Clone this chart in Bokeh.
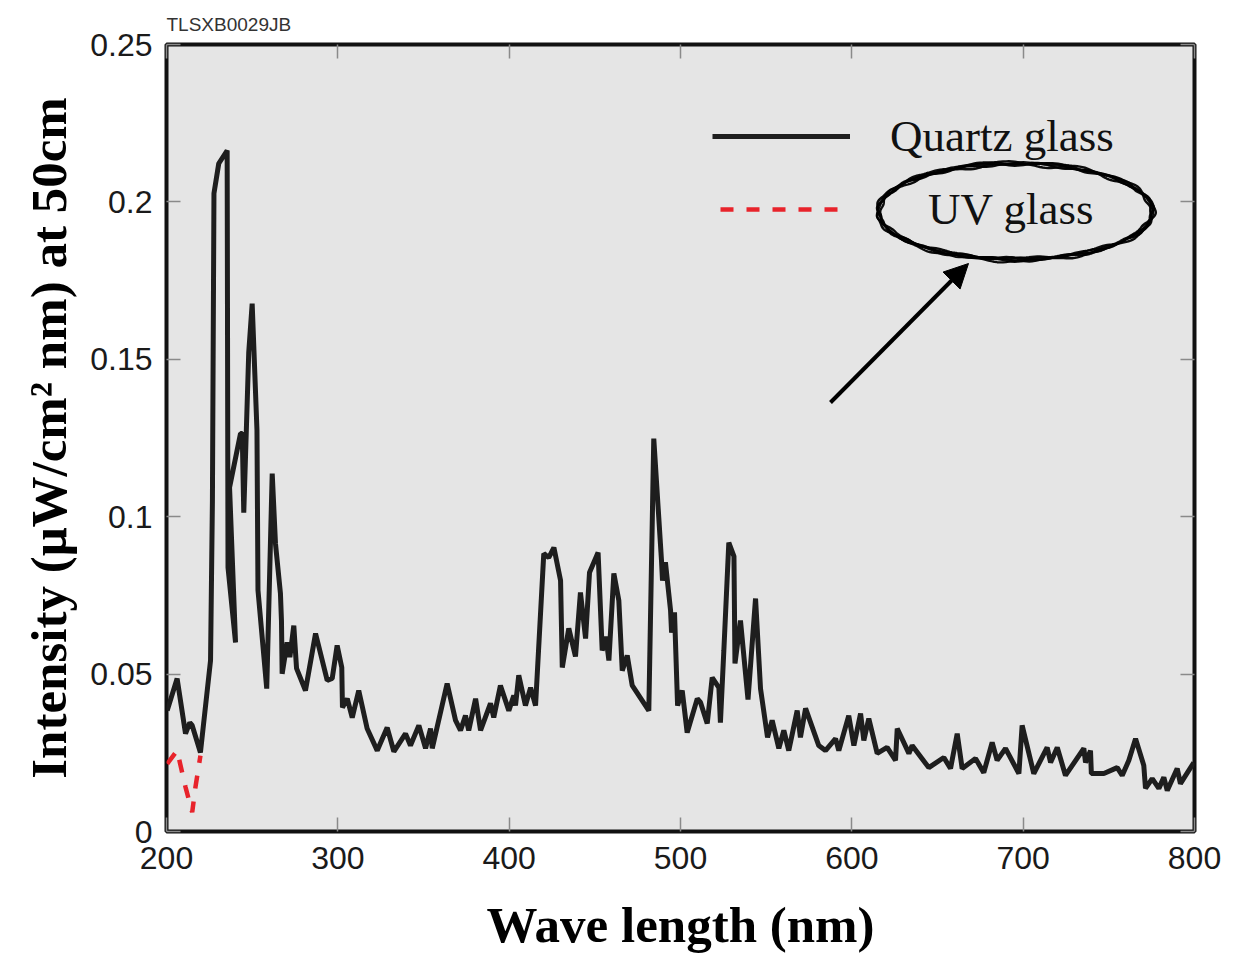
import numpy as np
from bokeh.plotting import figure
from bokeh.models import (Range1d, FixedTicker, LinearAxis, Legend, LegendItem,
                          PolyAnnotation, Arrow, NormalHead)
from bokeh.embed import file_html
from bokeh.resources import INLINE

# ---------------- data ----------------
WAVELENGTH_QUARTZ = [
    200.4, 206.2, 211.1, 213.6, 215.0, 219.8, 225.7, 226.8, 227.7, 230.5,
    235.4, 235.9, 240.3, 236.8, 243.2, 244.2, 245.1, 248.0, 250.0, 252.8,
    253.4, 258.5, 261.7, 263.6, 266.5, 267.1, 267.5, 270.4, 272.0, 274.3,
    275.9, 281.1, 287.0, 293.8, 296.7, 299.6, 302.3, 302.7, 305.5, 308.4,
    312.2, 317.1, 323.0, 328.8, 332.7, 339.5, 342.4, 347.3, 351.2, 354.1,
    355.1, 363.8, 368.7, 371.6, 374.5, 376.4, 380.4, 383.3, 389.1, 391.0,
    394.9, 399.8, 402.7, 403.7, 405.6, 409.5, 412.5, 415.4, 420.2, 423.1,
    426.1, 430.0, 431.0, 434.8, 438.7, 441.6, 444.6, 446.9, 451.9, 454.3,
    456.5, 458.2, 461.1, 464.0, 466.0, 468.9, 471.8, 481.5, 484.4, 488.9,
    489.5, 491.2, 494.2, 494.8, 496.5, 498.3, 501.0, 503.9, 509.8, 511.7,
    515.6, 518.5, 522.4, 523.3, 525.3, 528.2, 531.2, 531.8, 535.0, 539.4,
    543.8, 546.7, 550.8, 553.5, 557.4, 560.3, 563.2, 568.1, 570.0, 573.0,
    580.7, 584.6, 590.5, 592.4, 598.2, 601.2, 605.1, 607.0, 609.9, 614.8,
    620.6, 625.5, 626.5, 633.3, 635.2, 644.9, 653.7, 657.6, 661.5, 664.4,
    672.2, 677.0, 681.9, 684.8, 689.7, 697.5, 699.4, 706.2, 714.0, 716.0,
    719.9, 724.7, 735.4, 736.4, 739.3, 739.8, 747.1, 754.9, 757.8, 761.7,
    765.6, 770.4, 771.4, 775.3, 779.2, 782.1, 784.1, 789.9, 791.8, 799.6,
]
INTENSITY_QUARTZ = [
    0.0384, 0.0486, 0.0311, 0.0346, 0.0337, 0.0251, 0.0543, 0.1051, 0.2027, 0.2122,
    0.2163, 0.0839, 0.0600, 0.1093, 0.1264, 0.1264, 0.1013, 0.1522, 0.1677, 0.1274,
    0.0766, 0.0454, 0.1137, 0.0915, 0.0756, 0.0670, 0.0501, 0.0601, 0.0554, 0.0654,
    0.0518, 0.0448, 0.0629, 0.0480, 0.0486, 0.0591, 0.0521, 0.0394, 0.0422, 0.0362,
    0.0448, 0.0327, 0.0257, 0.0330, 0.0254, 0.0311, 0.0273, 0.0337, 0.0264, 0.0327,
    0.0264, 0.0470, 0.0353, 0.0321, 0.0368, 0.0321, 0.0422, 0.0321, 0.0407, 0.0362,
    0.0464, 0.0384, 0.0432, 0.0400, 0.0496, 0.0400, 0.0457, 0.0400, 0.0883, 0.0870,
    0.0902, 0.0797, 0.0521, 0.0645, 0.0556, 0.0759, 0.0613, 0.0823, 0.0886, 0.0575,
    0.0619, 0.0543, 0.0820, 0.0734, 0.0511, 0.0559, 0.0464, 0.0384, 0.1248, 0.0861,
    0.0797, 0.0855, 0.0702, 0.0632, 0.0696, 0.0400, 0.0448, 0.0314, 0.0422, 0.0410,
    0.0343, 0.0489, 0.0457, 0.0346, 0.0575, 0.0918, 0.0874, 0.0534, 0.0670, 0.0419,
    0.0740, 0.0454, 0.0299, 0.0353, 0.0264, 0.0321, 0.0257, 0.0384, 0.0299, 0.0391,
    0.0273, 0.0257, 0.0295, 0.0257, 0.0368, 0.0273, 0.0375, 0.0289, 0.0359, 0.0248,
    0.0267, 0.0226, 0.0327, 0.0248, 0.0273, 0.0203, 0.0235, 0.0200, 0.0311, 0.0200,
    0.0232, 0.0187, 0.0283, 0.0226, 0.0264, 0.0184, 0.0337, 0.0184, 0.0267, 0.0219,
    0.0267, 0.0178, 0.0264, 0.0219, 0.0257, 0.0184, 0.0184, 0.0203, 0.0178, 0.0226,
    0.0295, 0.0210, 0.0137, 0.0168, 0.0137, 0.0172, 0.0130, 0.0200, 0.0152, 0.0219,
]
WAVELENGTH_UV = [200.4, 206.2, 211.1, 215.0, 216.9, 219.8]
INTENSITY_UV = [0.0215, 0.0257, 0.0141, 0.0061, 0.0141, 0.0241]

X_TICKS = [200, 300, 400, 500, 600, 700, 800]
X_TICK_LABELS = ["200", "300", "400", "500", "600", "700", "800"]
Y_TICKS = [0, 0.05, 0.1, 0.15, 0.2, 0.25]
Y_TICK_LABELS = ["0", "0.05", "0.1", "0.15", "0.2", "0.25"]

SERIES_NAMES = ["Quartz glass", "UV glass"]
X_TITLE = "Wave length (nm)"
Y_TITLE = "Intensity (\u03bcW/cm\u00b2 nm) at 50cm"
CODE_TEXT = "TLSXB0029JB"

# ---------------- figure ----------------
p = figure(width=1246, height=955, output_backend="svg", toolbar_location=None,
           x_range=Range1d(200, 800), y_range=Range1d(0, 0.25),
           min_border_left=166, min_border_right=52, min_border_top=44,
           min_border_bottom=124,
           background_fill_color="#e5e5e5", border_fill_color="white",
           title=CODE_TEXT)
p.grid.visible = False
p.outline_line_color = "#111111"
p.outline_line_width = 4

p.title.align = "left"
p.title.text_font = "Liberation Sans"
p.title.text_font_size = "19px"
p.title.text_font_style = "normal"
p.title.text_color = "#333333"
p.title.standoff = 19

TICK_COLOR = "#8a8a8a"

xa = p.xaxis[0]
ya = p.yaxis[0]
xa.ticker = FixedTicker(ticks=X_TICKS)
ya.ticker = FixedTicker(ticks=Y_TICKS)
xa.major_label_overrides = dict(zip(X_TICKS, X_TICK_LABELS))
ya.major_label_overrides = dict(zip(Y_TICKS, Y_TICK_LABELS))
for ax in (xa, ya):
    ax.axis_line_color = None
    ax.major_tick_in = 14
    ax.major_tick_out = 0
    ax.major_tick_line_color = TICK_COLOR
    ax.major_tick_line_width = 1.5
    ax.minor_tick_line_color = None
    ax.major_label_text_font = "Liberation Sans"
    ax.major_label_text_font_size = "32px"
    ax.major_label_text_color = "#1a1a1a"
    ax.axis_label_text_font = "Liberation Serif"
    ax.axis_label_text_font_style = "bold"
    ax.axis_label_text_font_size = "51px"
    ax.axis_label_text_color = "#000000"
xa.major_label_standoff = 15
ya.major_label_standoff = 14
xa.axis_label = X_TITLE
ya.axis_label = Y_TITLE
xa.axis_label_standoff = 25
ya.axis_label_standoff = 10

# mirrored inward ticks on top and right (labels not drawn)
for loc, ticks in (("above", X_TICKS), ("right", Y_TICKS)):
    ax2 = LinearAxis(ticker=FixedTicker(ticks=ticks),
                     major_label_text_font_size="1px", major_label_text_color=None,
                     major_label_standoff=0,
                     major_tick_in=14, major_tick_out=0,
                     major_tick_line_color=TICK_COLOR, major_tick_line_width=1.5,
                     minor_tick_line_color=None, axis_line_color=None)
    p.add_layout(ax2, loc)

# ---------------- series ----------------
r_uv = p.line(WAVELENGTH_UV, INTENSITY_UV, line_color="#e8232b", line_width=4.5,
              line_dash="13 13")
r_q = p.line(WAVELENGTH_QUARTZ, INTENSITY_QUARTZ, line_color="#1e1e1e", line_width=5)

# ---------------- legend (two single-row legends, placed like the original) ----------------
leg_common = dict(border_line_color=None, background_fill_alpha=0, padding=0, margin=0,
                  spacing=0, glyph_height=50, label_height=50,
                  label_text_font="Liberation Serif", label_text_font_size="45px",
                  label_text_color="#111111")
leg1 = Legend(items=[LegendItem(label=SERIES_NAMES[0], renderers=[r_q])],
              location=(546, 669), glyph_width=138, label_standoff=40, **leg_common)
leg2 = Legend(items=[LegendItem(label=SERIES_NAMES[1], renderers=[r_uv])],
              location=(554, 596), glyph_width=126, label_standoff=82, **leg_common)
p.add_layout(leg1, "center")
p.add_layout(leg2, "center")

# ---------------- hand-drawn ellipse around "UV glass" ----------------
theta = np.linspace(0, 2 * np.pi, 300)
cx, cy, a, b = 849, 620, 137, 48
passes = ((0.0, 0.0, 0.0, 3.2), (1.8, 1.4, 1.3, 2.4), (-1.8, -1.4, 2.6, 2.4),
          (0.9, -0.7, 4.0, 2.0), (-0.9, 0.8, 5.1, 1.6))
for da, db, ph, lw in passes:
    wob = 1.1 * np.sin(11 * theta + ph) + 0.7 * np.sin(23 * theta + 2 * ph)
    xs = cx + (a + da + wob) * np.cos(theta)
    ys = cy + (b + db + wob) * np.sin(theta)
    p.add_layout(PolyAnnotation(xs=list(xs), ys=list(ys), xs_units="screen", ys_units="screen",
                                fill_alpha=0, line_color="#000000", line_width=lw,
                                line_alpha=0.95))

# ---------------- arrow ----------------
p.add_layout(Arrow(x_start=664, y_start=429, x_end=802, y_end=568,
                   start_units="screen", end_units="screen",
                   line_color="#000000", line_width=4,
                   end=NormalHead(size=24, fill_color="#000000", line_color="#000000")))

open("out.html", "w").write(file_html(p, INLINE))
